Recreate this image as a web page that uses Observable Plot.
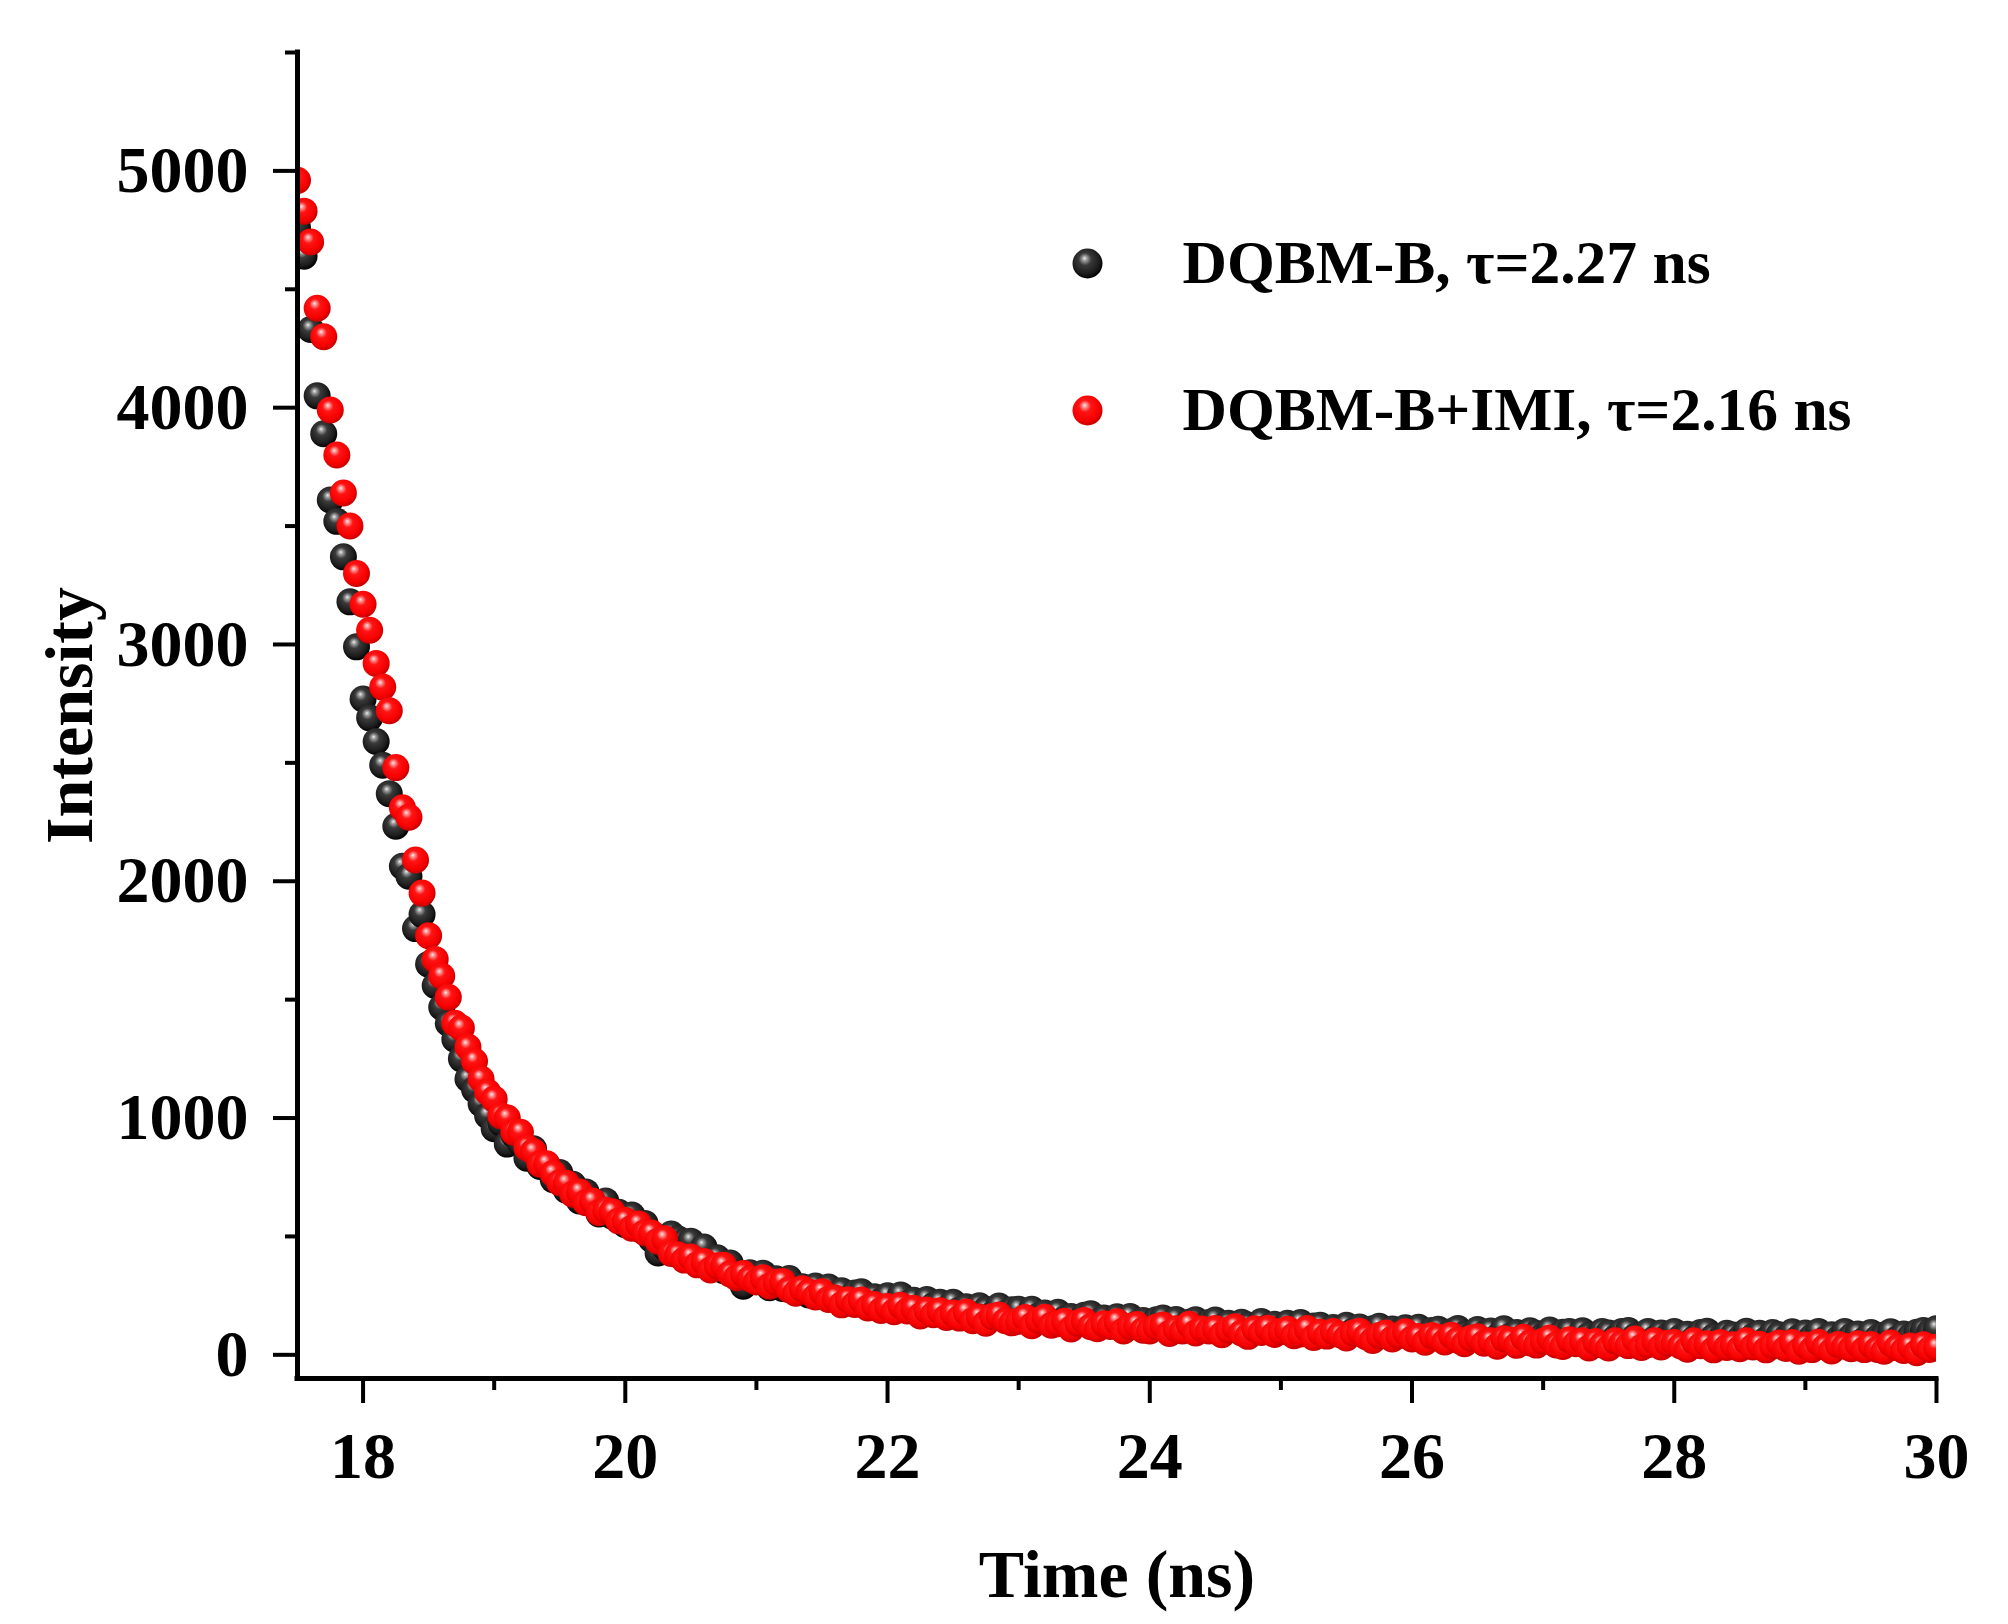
<!DOCTYPE html>
<html>
<head>
<meta charset="utf-8">
<script src="https://cdn.jsdelivr.net/npm/d3@7"></script>
<script src="https://cdn.jsdelivr.net/npm/@observablehq/plot@0.6"></script>
<style>
html, body { margin: 0; padding: 0; background: #fff; }
#chart { width: 2008px; height: 1624px; }
</style>
</head>
<body>
<div id="chart"></div>
<script>
// TCSPC channel grid (ns)
const timeStart = 17.5;
const timeStep = 0.05;

// DQBM-B (black), one value per channel from 17.50 ns to 30.00 ns
const intensityB = [
  4760, 4640, 4330, 4050, 3890, 3610, 3520, 3370, 3180, 2990,
  2770, 2690, 2590, 2490, 2370, 2232, 2063, 2021, 1800, 1860,
  1650, 1560, 1468, 1400, 1333, 1250, 1165, 1120, 1060, 1010,
  955, 980, 890, 930, 895, 830, 870, 795, 805, 740,
  770, 695, 720, 650, 688, 640, 595, 650, 585, 602,
  550, 590, 533, 555, 487, 430, 455, 510, 490, 478,
  480, 420, 455, 375, 410, 355, 388, 346, 290, 347,
  337, 345, 283, 321, 280, 322, 276, 288, 253, 291,
  250, 286, 252, 271, 227, 261, 266, 228, 245, 227,
  249, 211, 253, 215, 230, 197, 234, 208, 222, 192,
  222, 189, 203, 175, 207, 191, 171, 206, 174, 190,
  192, 157, 192, 164, 177, 150, 180, 151, 162, 137,
  167, 173, 137, 155, 129, 161, 140, 162, 130, 145,
  125, 148, 155, 128, 149, 114, 138, 148, 120, 137,
  147, 118, 133, 109, 138, 126, 109, 141, 115, 129,
  107, 133, 112, 136, 99, 122, 125, 94, 115, 101,
  125, 100, 118, 87, 110, 121, 90, 109, 97, 114,
  89, 116, 82, 103, 108, 78, 98, 111, 87, 81,
  107, 88, 101, 75, 110, 80, 94, 76, 102, 90,
  81, 105, 75, 95, 99, 69, 102, 83, 74, 99,
  92, 71, 98, 103, 76, 82, 99, 67, 92, 78,
  99, 74, 87, 67, 94, 100, 76, 69, 91, 84,
  69, 100, 77, 91, 64, 94, 85, 70, 97, 73,
  92, 75, 98, 66, 85, 68, 99, 77, 88, 63,
  94, 71, 84, 97, 67, 88, 77, 95, 103, 96, 110
];

// DQBM-B+IMI (red), same channels
const intensityBIMI = [
  4960, 4830, 4700, 4420, 4300, 3990, 3800, 3640, 3500, 3300,
  3170, 3060, 2920, 2820, 2720, 2480, 2310, 2270, 2090, 1950,
  1770, 1670, 1600, 1510, 1400, 1380, 1300, 1240, 1165, 1110,
  1080, 1010, 1000, 940, 940, 875, 858, 805, 807, 766,
  727, 725, 678, 688, 642, 650, 600, 611, 604, 565,
  567, 535, 553, 516, 514, 480, 490, 428, 423, 400,
  413, 380, 394, 358, 376, 378, 342, 326, 343, 321,
  308, 326, 290, 306, 310, 275, 260, 279, 265, 244,
  266, 234, 240, 211, 233, 213, 232, 198, 212, 187,
  204, 182, 209, 185, 197, 164, 189, 169, 186, 158,
  177, 155, 181, 144, 160, 133, 162, 168, 144, 135,
  142, 158, 123, 146, 159, 125, 131, 142, 109, 134,
  145, 119, 110, 131, 120, 140, 101, 120, 128, 104,
  101, 118, 126, 90, 110, 101, 129, 92, 109, 101,
  111, 85, 105, 119, 92, 78, 110, 94, 112, 86,
  98, 108, 81, 88, 111, 73, 95, 79, 98, 85,
  71, 92, 100, 76, 61, 82, 92, 67, 82, 97,
  67, 77, 53, 82, 74, 54, 83, 62, 47, 70,
  76, 49, 59, 36, 68, 63, 40, 74, 50, 41,
  57, 71, 42, 35, 64, 47, 59, 29, 56, 42,
  29, 59, 49, 39, 67, 31, 43, 59, 33, 49,
  52, 37, 24, 59, 38, 47, 21, 52, 31, 43,
  26, 59, 33, 45, 21, 38, 50, 27, 52, 15,
  41, 22, 53, 33, 16, 44, 36, 26, 47, 22,
  44, 23, 15, 50, 30, 18, 37, 9, 43, 23, 32
];

const seriesNames = ["DQBM-B, \u03C4=2.27 ns", "DQBM-B+IMI, \u03C4=2.16 ns"];
const xTicks = [18, 20, 22, 24, 26, 28, 30];
const xMinorTicks = [19, 21, 23, 25, 27, 29];
const yTicks = [0, 1000, 2000, 3000, 4000, 5000];
const yMinorTicks = [500, 1500, 2500, 3500, 4500, 5500];
const xDomain = [17.5, 30];
const yDomain = [-100, 5500];
const xTitle = "Time (ns)";
const yTitle = "Intensity";

const toRows = arr => arr.map((v, i) => ({t: +(timeStart + i * timeStep).toFixed(2), v}));
const dataB = toRows(intensityB);
const dataR = toRows(intensityBIMI);

const FONT = "'Liberation Serif', 'Times New Roman', Times, serif";
const plain = d3.format("d");

const plot = Plot.plot({
  width: 2008,
  height: 1624,
  marginLeft: 297,
  marginRight: 72,
  marginTop: 52,
  marginBottom: 246,
  x: {domain: xDomain},
  y: {domain: yDomain},
  style: {fontFamily: FONT, fontWeight: "bold", fontSize: "66px", color: "#000", background: "#fff", overflow: "visible"},
  marks: [
    Plot.dot(dataB, {x: "t", y: "v", r: 13.5, fill: "url(#sphereBlack)", clip: true}),
    Plot.dot(dataR, {x: "t", y: "v", r: 13.5, fill: "url(#sphereRed)", clip: true}),
    Plot.axisY(yTicks, {tickSize: 24, tickPadding: 25, strokeWidth: 4, label: null, fontSize: 66, tickFormat: plain}),
    Plot.axisY(yMinorTicks, {tickSize: 12, strokeWidth: 4, tickFormat: () => "", label: null}),
    Plot.axisX(xTicks, {tickSize: 25, tickPadding: 28, strokeWidth: 4, label: null, fontSize: 66, tickFormat: plain}),
    Plot.axisX(xMinorTicks, {tickSize: 12, strokeWidth: 4, tickFormat: () => "", label: null}),
    Plot.ruleX([xDomain[0]], {strokeWidth: 5, strokeLinecap: "square"}),
    Plot.ruleY([yDomain[0]], {strokeWidth: 5, strokeLinecap: "square"}),
    Plot.text([yTitle], {frameAnchor: "left", dx: -227, rotate: -90, textAnchor: "middle", lineAnchor: "middle", fontSize: 68, fontWeight: "bold"}),
    Plot.text([xTitle], {frameAnchor: "bottom", dy: 197, textAnchor: "middle", lineAnchor: "middle", fontSize: 68, fontWeight: "bold"}),
    // legend
    Plot.dot([seriesNames[0]], {frameAnchor: "top-left", dx: 790, dy: 211, r: 15, fill: "url(#sphereBlack)"}),
    Plot.dot([seriesNames[1]], {frameAnchor: "top-left", dx: 790, dy: 358, r: 15, fill: "url(#sphereRed)"}),
    Plot.text([seriesNames[0]], {frameAnchor: "top-left", dx: 885, dy: 211, textAnchor: "start", lineAnchor: "middle", fontSize: 61.5, fontWeight: "bold"}),
    Plot.text([seriesNames[1]], {frameAnchor: "top-left", dx: 885, dy: 358, textAnchor: "start", lineAnchor: "middle", fontSize: 61.5, fontWeight: "bold"})
  ]
});

// sphere-like shading for the markers
const defs = d3.select(plot).insert("defs", ":first-child");
function sphere(id, stops) {
  const g = defs.append("radialGradient").attr("id", id)
    .attr("cx", "45%").attr("cy", "42%").attr("r", "58%").attr("fx", "40%").attr("fy", "32%");
  stops.forEach(([o, c]) => g.append("stop").attr("offset", o).attr("stop-color", c));
}
sphere("sphereRed", [["0%", "#ffe6e6"], ["14%", "#ff8a8a"], ["34%", "#ff1414"], ["78%", "#f60000"], ["100%", "#c40000"]]);
sphere("sphereBlack", [["0%", "#eeeeee"], ["14%", "#9a9a9a"], ["36%", "#3a3a3a"], ["78%", "#1c1c1c"], ["100%", "#000000"]]);

document.getElementById("chart").appendChild(plot);
</script>
</body>
</html>
